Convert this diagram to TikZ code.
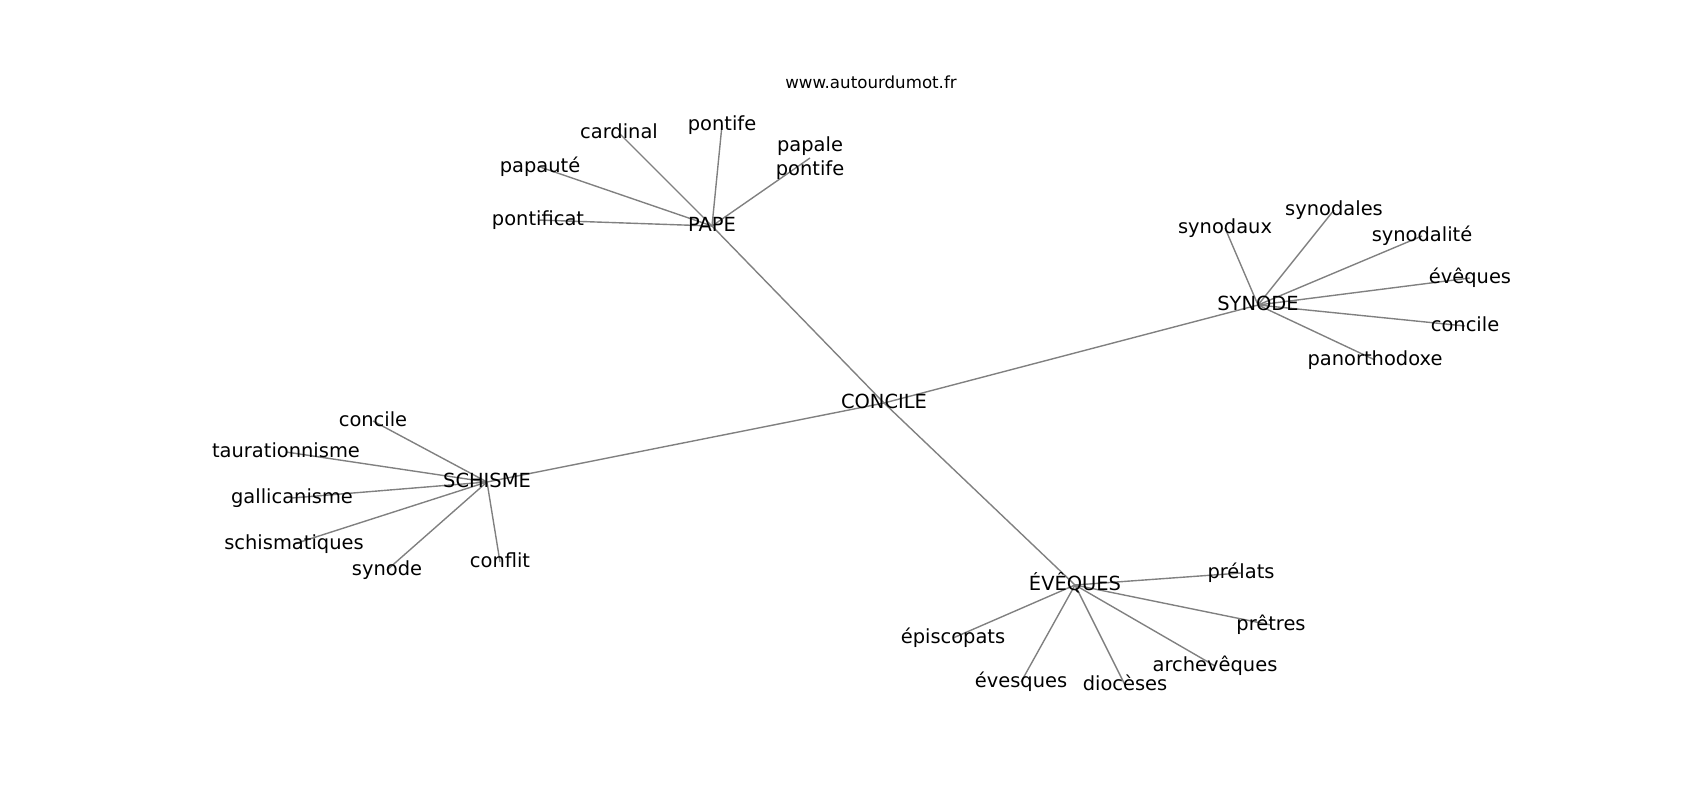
\documentclass[tikz,border=0pt]{standalone}
\usepackage{fontspec}
\setmainfont{DejaVu Sans}
\usetikzlibrary{backgrounds}
\begin{document}
\begin{tikzpicture}[x=0.72pt,y=-0.72pt,
  lbl/.style={inner sep=0pt, font=\fontsize{14}{16.8}\selectfont, text height=10.6pt, text depth=3.2pt},
  edge/.style={draw=black!50, line width=1pt}]
\useasboundingbox (0,0) rectangle (1700,800);
% title
\node[inner sep=0pt, font=\fontsize{12}{14.4}\selectfont, text height=9.1pt, text depth=2.8pt] (www) at (871,84) {www.autourdumot.fr};
% hubs
\node[lbl] (concile) at (884,403) {CONCILE};
\node[lbl] (pape) at (712,226) {PAPE};
\node[lbl] (synode) at (1258,305) {SYNODE};
\node[lbl] (schisme) at (487,482) {SCHISME};
\node[lbl] (eveques) at (1075,585) {ÉVÊQUES};
% PAPE
\node[lbl] (cardinal) at (619,133) {cardinal};
\node[lbl] (pontife) at (722,125) {pontife};
\node[inner sep=0pt, font=\fontsize{14}{16.8}\selectfont, align=center] (papale) at (810,158) {papale\\pontife};
\node[lbl] (papaute) at (540,167) {papauté};
\node[lbl] (pontificat) at (538,220) {pontificat};
% SYNODE
\node[lbl] (synodaux) at (1225,228) {synodaux};
\node[lbl] (synodales) at (1334,210) {synodales};
\node[lbl] (synodalite) at (1422,236) {synodalité};
\node[lbl] (evequesS) at (1470,278) {évêques};
\node[lbl] (concileS) at (1465,326) {concile};
\node[lbl] (panortho) at (1375,360) {panorthodoxe};
% SCHISME
\node[lbl] (concileC) at (373,421) {concile};
\node[lbl] (tauration) at (286,452) {taurationnisme};
\node[lbl] (gallican) at (292,498) {gallicanisme};
\node[lbl] (schismat) at (294,544) {schismatiques};
\node[lbl] (synodeC) at (387,570) {synode};
\node[lbl] (conflit) at (500,562) {conflit};
% EVEQUES
\node[lbl] (prelats) at (1241,573) {prélats};
\node[lbl] (pretres) at (1271,625) {prêtres};
\node[lbl] (episcopats) at (953,638) {épiscopats};
\node[lbl] (evesques) at (1021,682) {évesques};
\node[lbl] (dioceses) at (1125,685) {diocèses};
\node[lbl] (archeveques) at (1215,666) {archevêques};
\begin{scope}[on background layer]
\foreach \a/\b in {concile/pape, concile/synode, concile/schisme, concile/eveques,
  pape/cardinal, pape/pontife, pape/papale, pape/papaute, pape/pontificat,
  synode/synodaux, synode/synodales, synode/synodalite, synode/evequesS, synode/concileS, synode/panortho,
  schisme/concileC, schisme/tauration, schisme/gallican, schisme/schismat, schisme/synodeC, schisme/conflit,
  eveques/prelats, eveques/pretres, eveques/episcopats, eveques/evesques, eveques/dioceses, eveques/archeveques}
  \draw[edge] (\a.center) -- (\b.center);
\end{scope}
\end{tikzpicture}
\end{document}
